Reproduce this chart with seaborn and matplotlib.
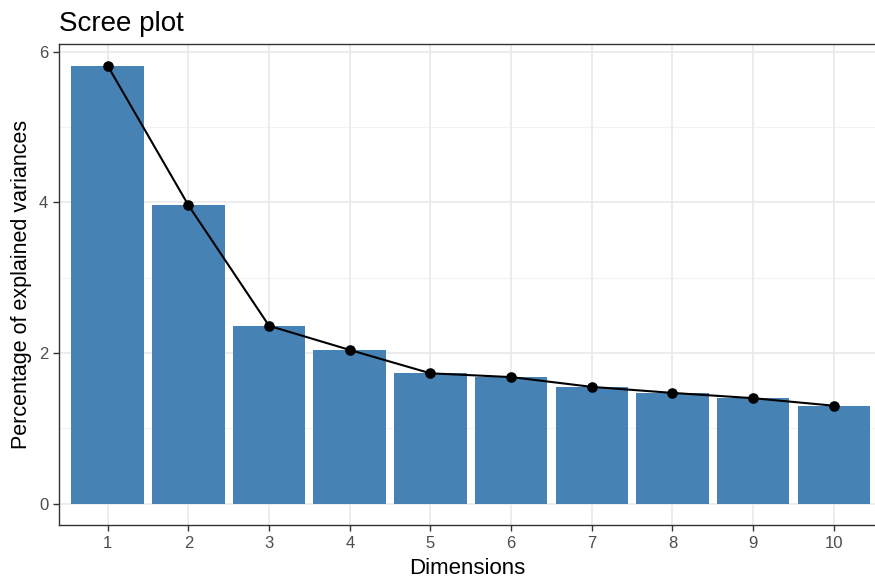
"""Scree plot of explained variance per dimension."""

import matplotlib
matplotlib.use("Agg")
import matplotlib.pyplot as plt
import pandas as pd
import seaborn as sns

dimensions = ["1", "2", "3", "4", "5", "6", "7", "8", "9", "10"]
explained = [5.81, 3.96, 2.36, 2.04, 1.73, 1.68, 1.55, 1.47, 1.40, 1.30]
y_ticks = [0, 2, 4, 6]
y_minor = [1, 3, 5]

df = pd.DataFrame({"dim": dimensions, "pct": explained})

sns.set_theme(style="white")
plt.rcParams["font.family"] = ["Liberation Sans", "DejaVu Sans"]

fig = plt.figure(figsize=(8.75, 5.8), dpi=100)
ax = fig.add_axes([0.0678, 0.0948, 0.9322, 0.83])

# ggplot-like grid behind everything
ax.set_axisbelow(True)
for y in y_ticks:
    ax.axhline(y, color="#EBEBEB", lw=1.3, zorder=0)
for y in y_minor:
    ax.axhline(y, color="#F2F2F2", lw=0.8, zorder=0)
for i in range(len(dimensions)):
    ax.axvline(i, color="#EBEBEB", lw=1.3, zorder=0)

sns.barplot(data=df, x="dim", y="pct", color="#4682B4", width=0.9,
            saturation=1, edgecolor="none", ax=ax, zorder=2)
sns.pointplot(data=df, x="dim", y="pct", color="black", markers="o",
              markersize=6.5, linewidth=1.5, ax=ax, zorder=3)

ax.set_xlim(-0.6, 9.51)
ax.set_ylim(-0.283, 6.105)
ax.set_yticks(y_ticks)
ax.set_yticklabels([str(v) for v in y_ticks])

for side in ["left", "top", "bottom"]:
    ax.spines[side].set_color("#333333")
    ax.spines[side].set_linewidth(1.0)
ax.spines["right"].set_visible(False)

ax.tick_params(axis="both", which="major", direction="out", length=4,
               width=1.0, color="#333333", labelcolor="#4D4D4D",
               labelsize=12, pad=4, bottom=True, left=True)

ax.set_xlabel("Dimensions", fontsize=16, color="black", labelpad=5)
ax.set_ylabel("Percentage of explained variances", fontsize=15.5,
              color="black", labelpad=5)
ax.set_title("Scree plot", loc="left", fontsize=20, color="black", pad=9, x=0.0)

fig.savefig("out.png", dpi=100)
plt.close(fig)
